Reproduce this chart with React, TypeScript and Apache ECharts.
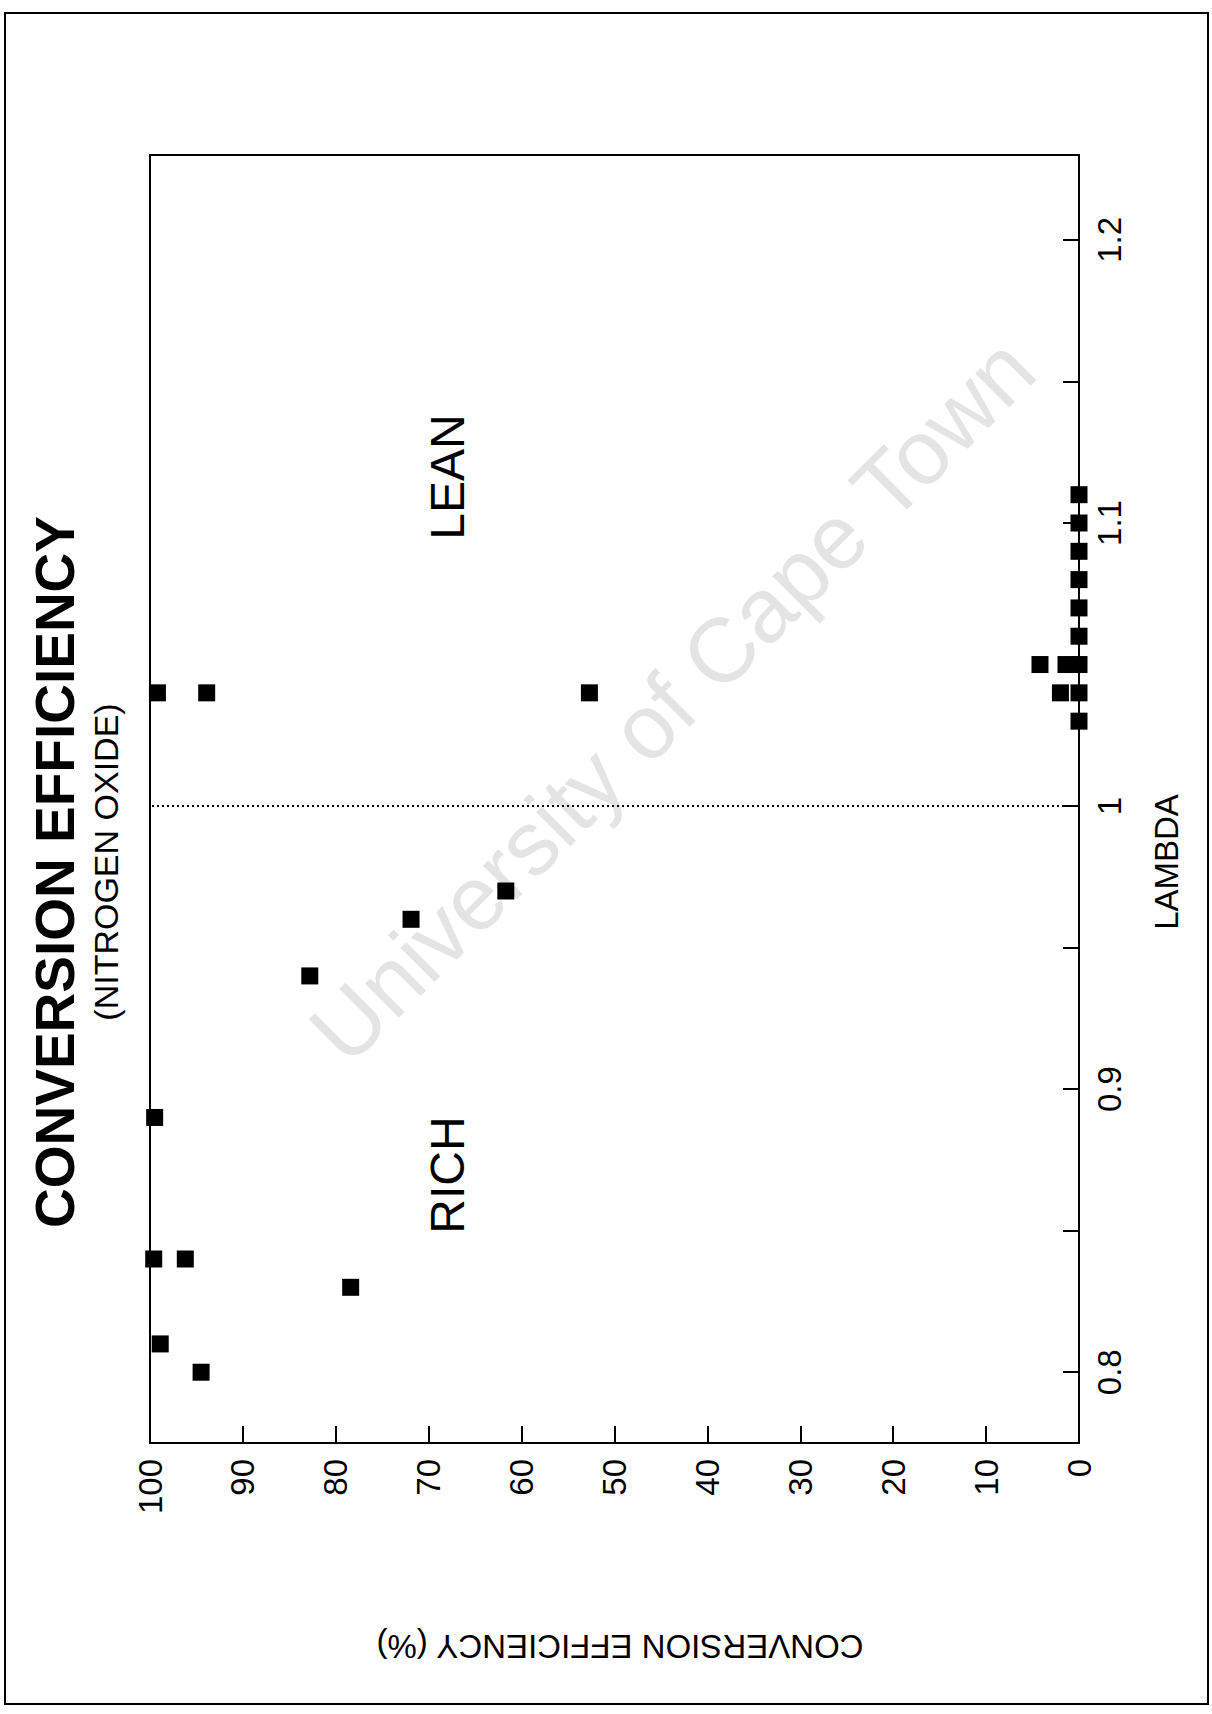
import React, { useEffect, useRef } from "react";
import * as echarts from "echarts";

// Lambda (air/fuel ratio) for each measurement
const lambdaValues = [
  0.8, 0.81, 0.83, 0.84, 0.84, 0.89, 0.94, 0.96, 0.97,
  1.04, 1.04, 1.04,
  1.03, 1.04, 1.04, 1.05, 1.05, 1.05, 1.06, 1.07, 1.08, 1.09, 1.1, 1.11,
];
// NOx conversion efficiency (%) for each measurement
const efficiencyValues = [
  94.5, 98.9, 78.4, 99.6, 96.2, 99.5, 82.8, 71.9, 61.7,
  99.2, 93.9, 52.7,
  0, 0, 2.0, 0, 1.4, 4.2, 0, 0, 0, 0, 0, 0,
];
const lambdaTickValues = [0.8, 0.85, 0.9, 0.95, 1.0, 1.05, 1.1, 1.15, 1.2];
const lambdaLabelValues = [0.8, 0.9, 1.0, 1.1, 1.2];
const stoichiometricLambda = 1.0;

const FONT = '"Liberation Sans", Arial, Helvetica, sans-serif';

export default function App() {
  const ref = useRef<HTMLDivElement>(null);
  useEffect(() => {
    if (!ref.current) return;
    const chart = echarts.init(ref.current, undefined, { renderer: "svg" });
    const points = lambdaValues.map((l, i) => [efficiencyValues[i], l]);
    chart.setOption({
      animation: false,
      backgroundColor: "#ffffff",
      grid: {
        left: 150,
        top: 155,
        width: 929,
        height: 1288,
        show: true,
        borderColor: "#000",
        borderWidth: 2,
      },
      xAxis: {
        type: "value",
        min: 0,
        max: 100,
        interval: 10,
        inverse: true,
        position: "bottom",
        axisLine: { show: true, lineStyle: { color: "#000", width: 2 } },
        axisTick: { show: true, inside: true, length: 17, lineStyle: { color: "#000", width: 2 } },
        axisLabel: {
          rotate: 90,
          margin: 16,
          color: "#000",
          fontSize: 33,
          fontFamily: FONT,
        },
        splitLine: { show: false },
      },
      yAxis: {
        type: "value",
        min: 0.775,
        max: 1.23,
        position: "right",
        axisLine: { show: true, lineStyle: { color: "#000", width: 2 } },
        axisTick: {
          show: true,
          inside: true,
          length: 16,
          customValues: lambdaTickValues,
          lineStyle: { color: "#000", width: 2 },
        },
        axisLabel: {
          rotate: 90,
          margin: 14,
          color: "#000",
          fontSize: 33,
          fontFamily: FONT,
          customValues: lambdaLabelValues,
          formatter: (v: number) => String(Math.round(v * 100) / 100),
        },
        splitLine: { show: false },
      },
      series: [
        {
          type: "scatter",
          symbol: "rect",
          symbolSize: 17,
          clip: false,
          itemStyle: { color: "#000", opacity: 1 },
          data: points,
          markLine: {
            silent: true,
            symbol: "none",
            label: { show: false },
            lineStyle: { color: "#000", type: [2, 3], width: 2, opacity: 1 },
            data: [{ yAxis: stoichiometricLambda }],
          },
        },
      ],
      graphic: [
        {
          type: "rect",
          shape: { x: 5, y: 13, width: 1203, height: 1691 },
          style: { fill: "none", stroke: "#000", lineWidth: 2 },
          z: -1,
        },
        {
          type: "text",
          x: 672,
          y: 700,
          rotation: Math.PI / 4,
          z: -2,
          style: {
            text: "University of Cape Town",
            fill: "#e4e4e4",
            fontSize: 91,
            fontFamily: FONT,
            align: "center",
            verticalAlign: "middle",
          },
        },
        {
          type: "text",
          x: 55,
          y: 872,
          rotation: Math.PI / 2,
          style: {
            text: "CONVERSION EFFICIENCY",
            fill: "#000",
            fontSize: 55,
            fontWeight: "bold",
            fontFamily: FONT,
            align: "center",
            verticalAlign: "middle",
          },
        },
        {
          type: "text",
          x: 106,
          y: 862,
          rotation: Math.PI / 2,
          style: {
            text: "(NITROGEN OXIDE)",
            fill: "#000",
            fontSize: 34,
            fontFamily: FONT,
            align: "center",
            verticalAlign: "middle",
          },
        },
        {
          type: "text",
          x: 447,
          y: 1175,
          rotation: Math.PI / 2,
          style: {
            text: "RICH",
            fill: "#000",
            fontSize: 48,
            fontFamily: FONT,
            align: "center",
            verticalAlign: "middle",
          },
        },
        {
          type: "text",
          x: 447,
          y: 477,
          rotation: Math.PI / 2,
          style: {
            text: "LEAN",
            fill: "#000",
            fontSize: 48,
            fontFamily: FONT,
            align: "center",
            verticalAlign: "middle",
          },
        },
        {
          type: "text",
          x: 1166,
          y: 862,
          rotation: Math.PI / 2,
          style: {
            text: "LAMBDA",
            fill: "#000",
            fontSize: 33,
            fontFamily: FONT,
            align: "center",
            verticalAlign: "middle",
          },
        },
        {
          type: "text",
          x: 620,
          y: 1646,
          rotation: Math.PI,
          style: {
            text: "CONVERSION EFFICIENCY (%)",
            fill: "#000",
            fontSize: 33,
            fontFamily: FONT,
            align: "center",
            verticalAlign: "middle",
          },
        },
      ],
    });
    return () => chart.dispose();
  }, []);
  return (
    <div
      ref={ref}
      style={{ position: "absolute", left: 0, top: 0, width: 1212, height: 1714, background: "#fff" }}
    />
  );
}
